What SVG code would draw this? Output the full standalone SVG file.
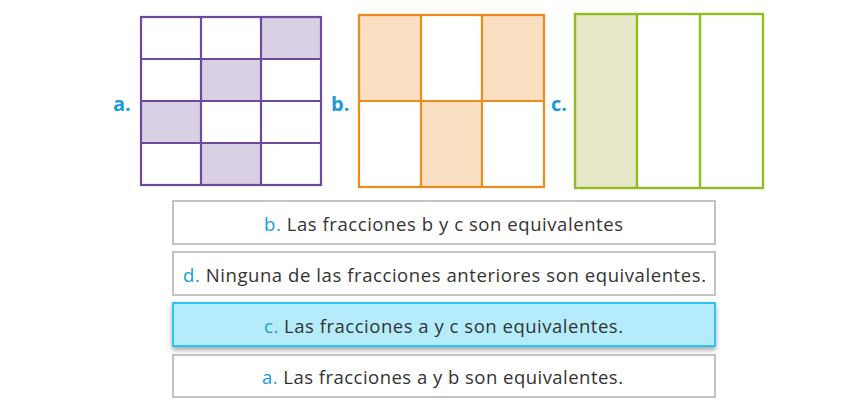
<svg xmlns="http://www.w3.org/2000/svg" width="862" height="408" viewBox="0 0 862 408">
<defs>
<style>
.lbl{font-family:"Open Sans","Noto Sans",sans-serif;font-weight:bold;font-size:20px;fill:#1a9ad6}
.gp{fill:none;stroke:#6c4b98;stroke-width:2.2}
.go{fill:none;stroke:#ef8a1d;stroke-width:2.2}
.gg{fill:none;stroke:#8fbe21;stroke-width:2.4}
.box{fill:#fff;stroke:#c3c3c3;stroke-width:2}
.sel{fill:#b4ecfc;stroke:#2cc6ef;stroke-width:2}
.opt{font-family:"Open Sans","Noto Sans",sans-serif;font-size:18.5px;fill:#333;text-anchor:middle}
.k{fill:#1a9ad6}
</style>
<filter id="sh" x="-5%" y="-30%" width="110%" height="170%">
<feDropShadow dx="0" dy="3" stdDeviation="2.5" flood-color="#000" flood-opacity="0.35"/>
</filter>
</defs>
<rect width="862" height="408" fill="#fff"/>
<g id="fig-a">
<rect x="261" y="17" width="60" height="42" fill="#d9d0e6"/>
<rect x="201" y="59" width="60" height="42" fill="#d9d0e6"/>
<rect x="141" y="101" width="60" height="42" fill="#d9d0e6"/>
<rect x="201" y="143" width="60" height="42" fill="#d9d0e6"/>
<rect class="gp" x="141" y="17" width="180" height="168"/>
<path class="gp" d="M201 17V185M261 17V185M141 59H321M141 101H321M141 143H321"/>
<text class="lbl" x="113" y="111">a.</text>
</g>
<g id="fig-b">
<rect x="359" y="15" width="62" height="86" fill="#fadfc3"/>
<rect x="482" y="15" width="62" height="86" fill="#fadfc3"/>
<rect x="421" y="101" width="61" height="86" fill="#fadfc3"/>
<rect class="go" x="359" y="15" width="185" height="172"/>
<path class="go" d="M421 15V187M482 15V187M359 101H544"/>
<text class="lbl" x="331" y="111">b.</text>
</g>
<g id="fig-c">
<rect x="575" y="14" width="62" height="174" fill="#e7e8c8"/>
<rect class="gg" x="575" y="14" width="188" height="174"/>
<path class="gg" d="M637 14V188M700 14V188"/>
<text class="lbl" x="551" y="111">c.</text>
</g>
<g id="opt-b">
<rect class="box" x="173" y="201" width="542" height="43"/>
<text class="opt" x="443.5" y="231" textLength="359"><tspan class="k">b.</tspan> Las fracciones b y c son equivalentes</text>
</g>
<g id="opt-d">
<rect class="box" x="173" y="252" width="542" height="43"/>
<text class="opt" x="444.5" y="282" textLength="523"><tspan class="k">d.</tspan> Ninguna de las fracciones anteriores son equivalentes.</text>
</g>
<g id="opt-c">
<rect class="sel" x="173" y="303" width="542" height="43" filter="url(#sh)"/>
<text class="opt" x="443.5" y="333" textLength="359"><tspan class="k">c.</tspan> Las fracciones a y c son equivalentes.</text>
</g>
<g id="opt-a">
<rect class="box" x="173" y="355" width="542" height="42"/>
<text class="opt" x="442.5" y="384" textLength="361"><tspan class="k">a.</tspan> Las fracciones a y b son equivalentes.</text>
</g>
<g id="connectors"/>
</svg>
